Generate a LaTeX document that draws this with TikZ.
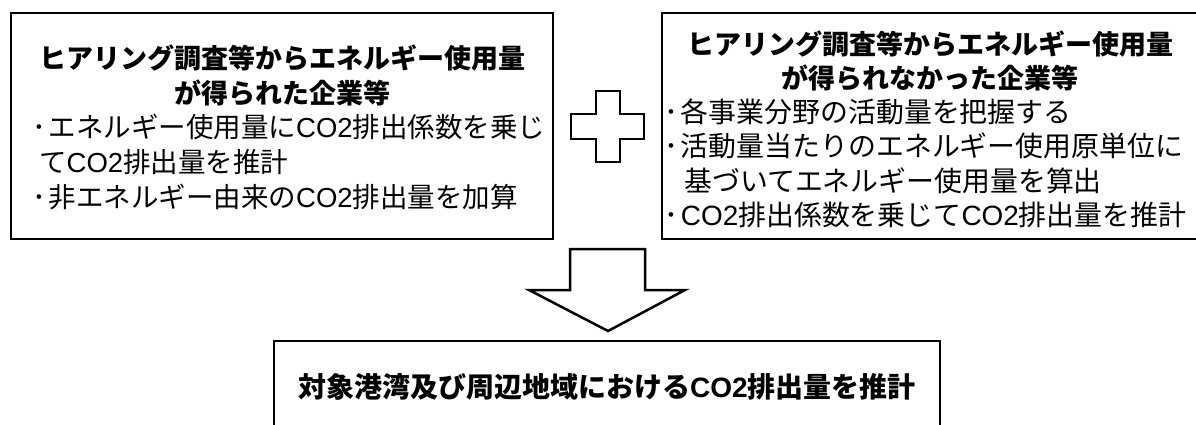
\documentclass[tikz,border=0pt]{standalone}
\usepackage{fontspec}
\setmainfont{Noto Sans CJK JP}
\newfontfamily\latf{Liberation Sans}
\newcommand\COtwo{{\latf CO2}}
\newcommand\bul{\makebox[0.6em][l]{･}}
\begin{document}
\begin{tikzpicture}[x=1pt,y=-1pt,
  frame/.style={draw=black, line width=2.5pt, rectangle, inner sep=0pt},
  ttl/.style={font=\fontsize{27}{27}\selectfont\bfseries, anchor=base, inner sep=0pt},
  txt/.style={font=\fontsize{27.5}{27.5}\selectfont, anchor=base west, inner sep=0pt},
  txtr/.style={txt, font=\fontsize{27.9}{27.9}\selectfont},
  blockshape/.style={draw=black, line width=2.5pt, fill=white, line join=miter}]
\clip (0,0) rectangle (1196,425);
\fill[white] (0,0) rectangle (1196,425);
% boxes
\node[frame, minimum width=542pt, minimum height=226pt] (L) at (282,126) {};
\node[frame, minimum width=536pt, minimum height=226pt] (R) at (930,126) {};
\node[frame, minimum width=666pt, minimum height=119pt] (B) at (607,400.5) {};
% left box text
\node[ttl] (L1) at (282,69) {ヒアリング調査等からエネルギー使用量};
\node[ttl] (L2) at (282,103.5) {が得られた企業等};
\node[txt] (L3) at (32,138) {\bul エネルギー使用量に\COtwo 排出係数を乗じ};
\node[txt] (L4) at (39,172.5) {て\COtwo 排出量を推計};
\node[txt] (L5) at (32,207) {\bul 非エネルギー由来の\COtwo 排出量を加算};
% right box text
\node[ttl] (R1) at (930,55) {ヒアリング調査等からエネルギー使用量};
\node[ttl] (R2) at (930,89) {が得られなかった企業等};
\node[txtr] (R3) at (664,123) {\bul 各事業分野の活動量を把握する};
\node[txtr] (R4) at (664,157) {\bul 活動量当たりのエネルギー使用原単位に};
\node[txtr] (R5) at (684,191) {基づいてエネルギー使用量を算出};
\node[txtr] (R6) at (664,225) {\bul \COtwo 排出係数を乗じて\COtwo 排出量を推計};
% bottom text
\node[ttl, font=\fontsize{28}{28}\selectfont\bfseries] (B1) at (607,397.5) {対象港湾及び周辺地域における\COtwo 排出量を推計};
% plus sign
\draw[blockshape] (596,91) -- (620,91) -- (620,114) -- (644,114) -- (644,139) -- (620,139) -- (620,162) -- (596,162) -- (596,139) -- (571,139) -- (571,114) -- (596,114) -- cycle;
% block arrow
\draw[blockshape] (570,249) -- (645,249) -- (645,290) -- (685,290) -- (608,331) -- (529,290) -- (570,290) -- cycle;
\end{tikzpicture}
\end{document}
